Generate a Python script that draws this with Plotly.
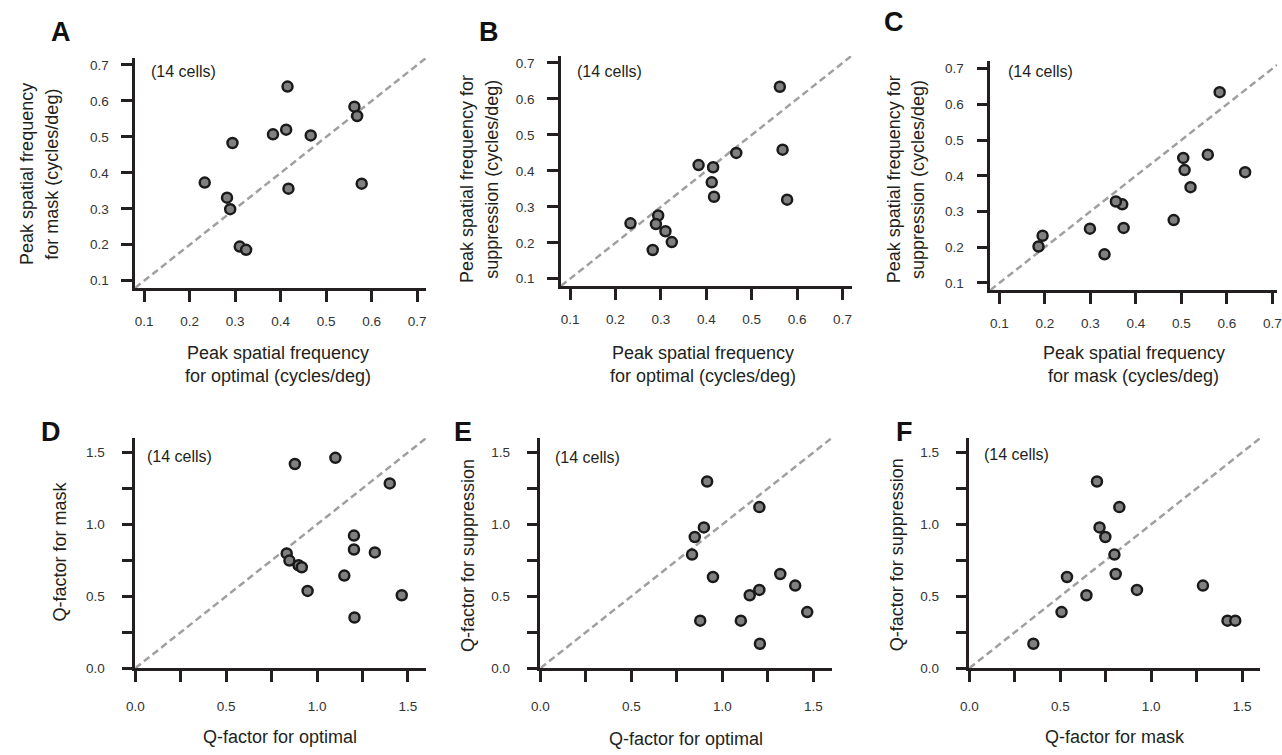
import plotly.graph_objects as go

W, H = 1282, 755
FONT = "Liberation Sans, Arial, sans-serif"
DARK = "#231f20"

# ---------------- data (14 cells) ----------------
sf_optimal = [0.415, 0.562, 0.568, 0.412, 0.383, 0.466, 0.294, 0.233, 0.578, 0.417, 0.282, 0.289, 0.310, 0.324]
sf_mask = [0.640, 0.584, 0.558, 0.520, 0.507, 0.504, 0.483, 0.373, 0.370, 0.356, 0.331, 0.299, 0.195, 0.186]
sf_suppression = [0.410, 0.634, 0.459, 0.368, 0.416, 0.450, 0.276, 0.254, 0.320, 0.328, 0.180, 0.252, 0.232, 0.202]

q_optimal = [0.833, 0.848, 0.878, 0.898, 0.916, 0.948, 1.101, 1.150, 1.203, 1.203, 1.206, 1.318, 1.400, 1.466]
q_mask = [0.798, 0.748, 1.420, 0.716, 0.702, 0.537, 1.463, 0.644, 0.922, 0.825, 0.352, 0.805, 1.285, 0.507]
q_suppression = [0.790, 0.912, 0.330, 0.979, 1.298, 0.634, 0.330, 0.507, 0.544, 1.120, 0.170, 0.655, 0.574, 0.390]

sf_ticks = [0.1, 0.2, 0.3, 0.4, 0.5, 0.6, 0.7]
sf_ticktext = ["0.1", "0.2", "0.3", "0.4", "0.5", "0.6", "0.7"]
q_ticks = [0.0, 0.25, 0.5, 0.75, 1.0, 1.25, 1.5]
q_ticktext = ["0.0", "", "0.5", "", "1.0", "", "1.5"]

panel_letters = ["A", "B", "C", "D", "E", "F"]
cells_label = "(14 cells)"

x_titles = [
    ["Peak spatial frequency", "for optimal (cycles/deg)"],
    ["Peak spatial frequency", "for optimal (cycles/deg)"],
    ["Peak spatial frequency", "for mask (cycles/deg)"],
    ["Q-factor for optimal"],
    ["Q-factor for optimal"],
    ["Q-factor for mask"],
]
y_titles = [
    ["Peak spatial frequency", "for mask (cycles/deg)"],
    ["Peak spatial frequency for", "suppression (cycles/deg)"],
    ["Peak spatial frequency for", "suppression (cycles/deg)"],
    ["Q-factor for mask"],
    ["Q-factor for suppression"],
    ["Q-factor for suppression"],
]

panel_data = [
    (sf_optimal, sf_mask),
    (sf_optimal, sf_suppression),
    (sf_mask, sf_suppression),
    (q_optimal, q_mask),
    (q_optimal, q_suppression),
    (q_mask, q_suppression),
]

# ---------------- layout geometry (pixels) ----------------
# plot boxes: x0, x1, y0(top), y1(bottom), xrange, yrange
boxes = [
    (127.5, 421.9, 58.4, 291.0, [0.08, 0.72], [0.08, 0.72]),
    (558.1, 851.9, 56.4, 289.0, [0.08, 0.72], [0.08, 0.72]),
    (992.1, 1282.0, 62.1, 293.2, [0.08, 0.71], [0.08, 0.72]),
    (127.7, 421.7, 442.8, 675.3, [0.0, 1.6], [0.0, 1.6]),
    (537.3, 831.7, 442.8, 675.3, [0.0, 1.6], [0.0, 1.6]),
    (971.0, 1265.0, 442.8, 675.3, [0.0, 1.6], [0.0, 1.6]),
]
letter_pos = [(53, 32), (485, 32), (895, 22), (42, 437), (459, 437), (905, 437)]
cells_pos = [(142, 72), (572, 72), (1008, 72), (138, 461), (550, 462), (984, 459)]
xtitle_pos = [(272, [357, 380]), (702, [357, 380]), (1137, [357, 380]),
              (274, [745]), (684, [747]), (1118, [745])]
ytitle_pos = [([18, 44], 176), ([463, 488], 181), ([895, 919], 181),
              ([52], 557), ([464], 561), ([898], 561)]


def px(x):
    return x / W


def py(y):
    return 1 - y / H


fig = go.Figure()
layout = dict(
    width=W, height=H,
    margin=dict(l=0, r=0, t=0, b=0),
    paper_bgcolor="white", plot_bgcolor="white",
    showlegend=False,
    font=dict(family=FONT, color=DARK),
)
annotations = []

for i, ((xv, yv), box) in enumerate(zip(panel_data, boxes)):
    x0, x1, y0, y1, xr, yr = box
    n = "" if i == 0 else str(i + 1)
    xref, yref = "x" + n, "y" + n
    is_sf = i < 3
    lo = max(xr[0], yr[0])
    hi = min(xr[1], yr[1])
    # unity line
    fig.add_trace(go.Scatter(
        x=[lo, hi], y=[lo, hi], mode="lines", xaxis=xref, yaxis=yref,
        line=dict(color="#a0a0a0", width=2.5, dash="7px,4px"), hoverinfo="skip",
    ))
    fig.add_trace(go.Scatter(
        x=xv, y=yv, mode="markers", xaxis=xref, yaxis=yref,
        marker=dict(size=10, color="#808080", line=dict(color="#1a1a1a", width=2.5)),
    ))
    common = dict(
        showline=True, linecolor=DARK, linewidth=2.5,
        ticks="outside", ticklen=11, tickwidth=2.5, tickcolor=DARK,
        showgrid=False, zeroline=False,
        tickfont=dict(family=FONT, size=13.5, color="#333333"),
        tickmode="array",
        tickvals=sf_ticks if is_sf else q_ticks,
        ticktext=sf_ticktext if is_sf else q_ticktext,
        ticklabeloverflow="allow",
    )
    layout["xaxis" + n] = dict(common, domain=[px(x0), min(1.0, px(x1))], range=xr,
                               anchor=yref, ticklabelstandoff=8 if is_sf else 13)
    layout["yaxis" + n] = dict(common, domain=[py(y1), py(y0)], range=yr,
                               anchor=xref, ticklabelstandoff=10 if is_sf else 14)

    # panel letter
    lx, ly = letter_pos[i]
    annotations.append(dict(text="<b>%s</b>" % panel_letters[i], x=px(lx), y=py(ly),
                            xref="paper", yref="paper", showarrow=False,
                            xanchor="center", yanchor="middle",
                            font=dict(family=FONT, size=27, color="#111111")))
    # cells label
    cx, cy = cells_pos[i]
    annotations.append(dict(text=cells_label, x=px(cx), y=py(cy),
                            xref="paper", yref="paper", showarrow=False,
                            xanchor="left", yanchor="middle",
                            font=dict(family=FONT, size=16, color=DARK)))
    # x title lines
    tx, tys = xtitle_pos[i]
    for line, ty in zip(x_titles[i], tys):
        annotations.append(dict(text=line, x=px(tx), y=py(ty),
                                xref="paper", yref="paper", showarrow=False,
                                xanchor="center", yanchor="middle",
                                font=dict(family=FONT, size=18, color=DARK)))
    # y title lines
    txs, ty = ytitle_pos[i]
    for line, tx in zip(y_titles[i], txs):
        annotations.append(dict(text=line, x=px(tx), y=py(ty), textangle=-90,
                                xref="paper", yref="paper", showarrow=False,
                                xanchor="center", yanchor="middle",
                                font=dict(family=FONT, size=18, color=DARK)))

layout["annotations"] = annotations
fig.update_layout(**layout)
fig.write_html("out.html")
